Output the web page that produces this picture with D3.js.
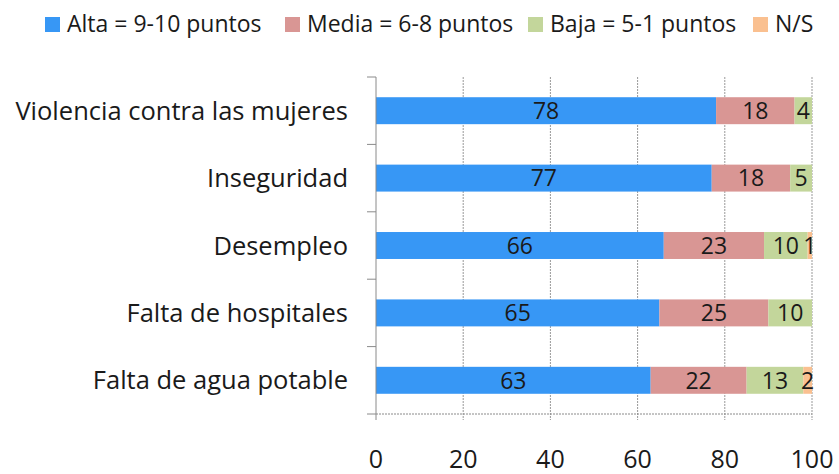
<!DOCTYPE html>
<html>
<head>
<meta charset="utf-8">
<script src="https://cdn.jsdelivr.net/npm/d3@7"></script>
<style>
  body { margin: 0; background: #fff; }
  text { font-family: "Open Sans", "Liberation Sans", sans-serif; fill: #1a1a1a; }
</style>
</head>
<body>
<svg id="chart" width="839" height="474"></svg>
<script>
// Daten
const categories = ["Violencia contra las mujeres", "Inseguridad", "Desempleo", "Falta de hospitales", "Falta de agua potable"];
const series = ["Alta = 9-10 puntos", "Media = 6-8 puntos", "Baja = 5-1 puntos", "N/S"];
const alta  = [78, 77, 66, 65, 63];
const media = [18, 18, 23, 25, 22];
const baja  = [4, 5, 10, 10, 13];
const ns    = [0, 0, 1, 0, 2];
const xTicks = [0, 20, 40, 60, 80, 100];

const colors = ["#3797f5", "#d99694", "#c3d69b", "#fac090"];

const svg = d3.select("#chart");
const margin = {top: 77, left: 376, right: 27, bottom: 60};
const W = 839, H = 474;

const rows = categories.map((c, i) => ({cat: c, Alta: alta[i], Media: media[i], Baja: baja[i], NS: ns[i]}));
const keys = ["Alta", "Media", "Baja", "NS"];
const stacked = d3.stack().keys(keys)(rows);

const x = d3.scaleLinear().domain([0, 100]).range([margin.left, W - margin.right]);
const y = d3.scaleBand().domain(categories).range([margin.top, H - margin.bottom]).paddingInner(0.6).paddingOuter(0.3);
const yOuter = d3.scaleBand().domain(categories).range([margin.top, H - margin.bottom]);

// Gitternetz
svg.append("g").selectAll("line")
  .data(xTicks.slice(1))
  .enter().append("line")
  .attr("x1", d => x(d)).attr("x2", d => x(d))
  .attr("y1", margin.top).attr("y2", H - margin.bottom + 6)
  .attr("stroke", "#999").attr("stroke-width", 1)
  .attr("stroke-dasharray", "2,1");

// Balken
const layer = svg.append("g").selectAll("g")
  .data(stacked).enter().append("g")
  .attr("fill", (d, i) => colors[i]);

layer.selectAll("rect")
  .data(d => d)
  .enter().append("rect")
  .attr("x", d => x(d[0]))
  .attr("width", d => x(d[1]) - x(d[0]))
  .attr("y", d => y(d.data.cat))
  .attr("height", y.bandwidth());

// Beschriftungen in den Balken
layer.selectAll("text")
  .data(d => d.filter(v => v[1] - v[0] > 0))
  .enter().append("text")
  .attr("x", d => (x(d[0]) + x(d[1])) / 2)
  .attr("y", d => y(d.data.cat) + y.bandwidth() / 2)
  .attr("dy", "0.36em")
  .attr("text-anchor", "middle")
  .style("font-size", "23px")
  .text(d => d[1] - d[0]);

// Achsen
svg.append("line")
  .attr("x1", x(0)).attr("x2", x(0))
  .attr("y1", margin.top).attr("y2", H - margin.bottom)
  .attr("stroke", "#8a8a8a");
svg.append("line")
  .attr("x1", x(0)).attr("x2", x(100))
  .attr("y1", H - margin.bottom).attr("y2", H - margin.bottom)
  .attr("stroke", "#8a8a8a").attr("stroke-dasharray", "2,1");

const bounds = categories.map(c => yOuter(c)).concat([H - margin.bottom]);
svg.append("g").selectAll("line")
  .data(bounds).enter().append("line")
  .attr("x1", x(0) - 9).attr("x2", x(0))
  .attr("y1", d => d).attr("y2", d => d)
  .attr("stroke", "#8a8a8a");

svg.append("line")
  .attr("x1", x(0)).attr("x2", x(0))
  .attr("y1", H - margin.bottom).attr("y2", H - margin.bottom + 6)
  .attr("stroke", "#8a8a8a");

// Kategorienbeschriftung
svg.append("g").selectAll("text")
  .data(categories).enter().append("text")
  .attr("x", 348)
  .attr("y", d => y(d) + y.bandwidth() / 2)
  .attr("dy", "0.36em")
  .attr("text-anchor", "end")
  .style("font-size", "25.5px")
  .text(d => d);

// x-Achse Beschriftung
svg.append("g").selectAll("text")
  .data(xTicks).enter().append("text")
  .attr("x", d => x(d))
  .attr("y", 468)
  .attr("text-anchor", "middle")
  .style("font-size", "25px")
  .text(d => d);

// Legende
const legendX = [45, 285, 528, 753];
const legend = svg.append("g").selectAll("g")
  .data(series).enter().append("g")
  .attr("transform", (d, i) => `translate(${legendX[i]}, 17)`);
legend.append("rect")
  .attr("width", 15).attr("height", 15)
  .attr("fill", (d, i) => colors[i]);
legend.append("text")
  .attr("x", 22).attr("y", 7)
  .attr("dy", "0.36em")
  .style("font-size", "23px")
  .text(d => d);
</script>
</body>
</html>
